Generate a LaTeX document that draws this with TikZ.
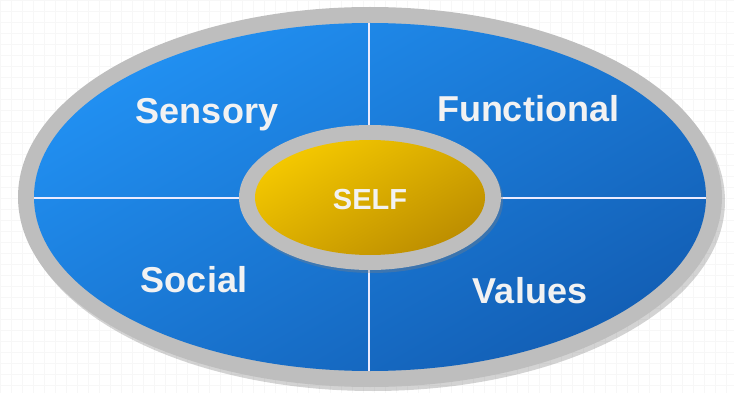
\documentclass[tikz,border=0pt]{standalone}
\usepackage{fontspec}
\setmainfont{Liberation Sans}
\usepackage{xcolor}
\usepackage{tikz}
\usetikzlibrary{shadows,positioning}

\definecolor{ringgray}{HTML}{BEBEBE}
\definecolor{bluetop}{HTML}{2190F2}
\definecolor{bluebot}{HTML}{135FB5}
\definecolor{goldtop}{HTML}{F4C800}
\definecolor{goldbot}{HTML}{BD8E00}
\definecolor{labelwhite}{HTML}{F2F2F2}

\tikzset{
  quadlabel/.style={text=labelwhite, font=\bfseries\fontsize{36}{38}\selectfont, anchor=base},
  selflabel/.style={text=labelwhite, font=\bfseries\fontsize{29}{31}\selectfont, anchor=base},
  divider/.style={white!92!blue, line width=2pt}
}

\begin{document}
\begin{tikzpicture}[x=1pt,y=-1pt]
    \useasboundingbox (0,0) rectangle (734,393);
    \draw[black!3, step=11pt] (0,0) grid (734,393);

    % Outer ring
    \fill[ringgray, drop shadow={shadow xshift=3pt, shadow yshift=-4pt, opacity=0.35}]
        (370,197) ellipse [x radius=352pt, y radius=190pt];
    \shade[top color=bluetop, bottom color=bluebot, shading angle=30]
        (370,197) ellipse [x radius=336pt, y radius=174pt];

    % Quadrant dividers
    \begin{scope}
        \clip (370,197) ellipse [x radius=336pt, y radius=174pt];
        \coordinate (top) at (369,20);
        \coordinate (bot) at (369,375);
        \coordinate (lft) at (30,198);
        \coordinate (rgt) at (710,198);
        \draw[divider] (top) -- (bot);
        \draw[divider] (lft) -- (rgt);
    \end{scope}

    % Center
    \fill[ringgray, drop shadow={shadow xshift=2pt, shadow yshift=-3pt, opacity=0.35}]
        (370,197.5) ellipse [x radius=131pt, y radius=72.5pt];
    \shade[top color=goldtop, bottom color=goldbot, shading angle=30]
        (370,197.5) ellipse [x radius=115pt, y radius=57.5pt];

    % Labels
    \node[quadlabel] (sensory) at (207,124) {Sensory};
    \node[quadlabel] (functional) at (528,122) {Functional};
    \node[quadlabel] (social) at (194,292) {Social};
    \node[quadlabel] (values) at (530,303) {Values};
    \node[selflabel] (self) at (370,209) {SELF};
\end{tikzpicture}
\end{document}
